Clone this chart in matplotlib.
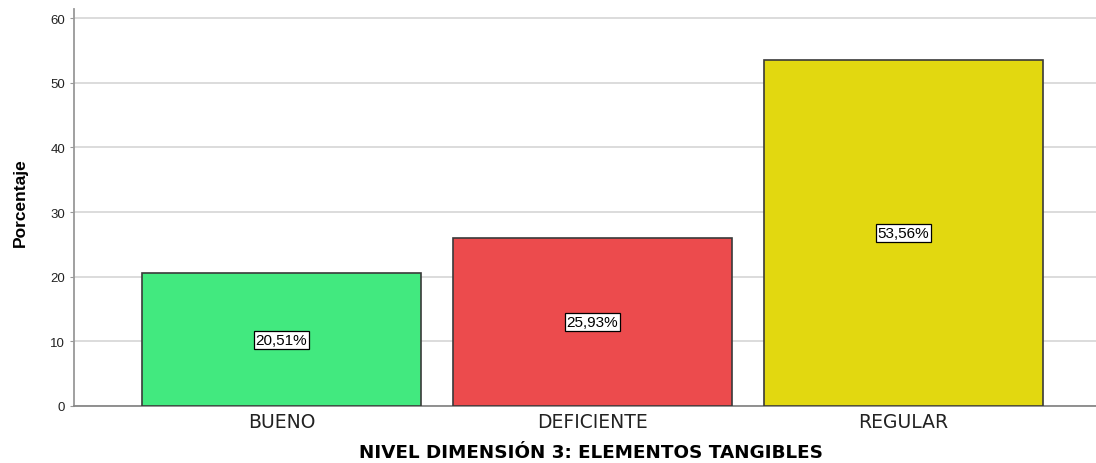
import matplotlib
matplotlib.use("Agg")
import matplotlib.pyplot as plt

# 数据
categorias = ["BUENO", "DEFICIENTE", "REGULAR"]
porcentajes = [20.51, 25.93, 53.56]
etiquetas = ["20,51%", "25,93%", "53,56%"]
colores = ["#42E97F", "#EC4B4D", "#E2D810"]

plt.rcParams["font.family"] = ["Liberation Sans", "DejaVu Sans"]

fig = plt.figure(figsize=(10.96, 4.64), dpi=100)
ax = fig.add_axes([74 / 1096, 57 / 464, 1037 / 1096, 397 / 464])

x = range(len(categorias))
bars = ax.bar(x, porcentajes, width=0.897, color=colores, edgecolor="#3a3a3a",
              linewidth=1.2, zorder=3)

for xi, v, lab in zip(x, porcentajes, etiquetas):
    ax.text(xi, v / 2, lab, ha="center", va="center", fontsize=11, zorder=4,
            bbox=dict(boxstyle="square,pad=0.14", fc="white", ec="black", lw=0.9))

ax.set_xlim(-0.667, 2.667)
ax.set_ylim(0, 61.4)
ax.set_yticks([0, 10, 20, 30, 40, 50, 60])
ax.set_xticks(list(x))
ax.set_xticklabels(categorias, fontsize=13.5, color="#222222",
                   family=["DejaVu Sans"])
ax.tick_params(axis="y", labelsize=9.5, length=3, color="#999999", labelcolor="#222222")
ax.tick_params(axis="x", length=0, pad=4)
ax.grid(axis="y", color="#d9d9d9", linewidth=1.3, zorder=0)

for s in ["top", "right"]:
    ax.spines[s].set_visible(False)
ax.spines["left"].set_color("#999999")
ax.spines["left"].set_linewidth(1.3)
ax.spines["bottom"].set_color("#888888")
ax.spines["bottom"].set_linewidth(1.3)

ax.set_ylabel("Porcentaje", fontsize=12.5, fontweight="bold",
              family=["Liberation Sans Narrow", "Liberation Sans"])
ax.yaxis.set_label_coords(-(74 - 20) / 1037, (407 - 203) / 397)
ax.yaxis.label.set_va("center")
ax.set_xlabel("NIVEL DIMENSIÓN 3: ELEMENTOS TANGIBLES", fontsize=13.2,
              fontweight="bold", family=["DejaVu Sans"])
ax.xaxis.set_label_coords((591 - 74) / 1037, -(453 - 407) / 397)
ax.xaxis.label.set_va("center")

fig.savefig("out.png", dpi=100)
